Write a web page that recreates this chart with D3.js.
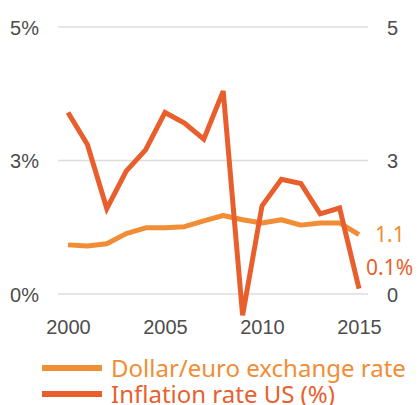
<!doctype html>
<html>
<head>
<meta charset="utf-8"/>
<script src="https://cdnjs.cloudflare.com/ajax/libs/d3/7.8.5/d3.min.js"></script>
<style>
  body { margin: 0; background: #fff; }
  svg { display: block; }
  .tick text { font-family: "Liberation Sans", Arial, sans-serif; font-size: 20px; fill: #4d4d4d; }
  .lbl { font-family: "Noto Sans", sans-serif; }
</style>
</head>
<body>
<svg width="419" height="405"></svg>
<script>
// data
var years = d3.range(2000, 2016)
var exchange = [0.92, 0.90, 0.94, 1.13, 1.24, 1.24, 1.26, 1.37, 1.47, 1.39, 1.33, 1.39, 1.29, 1.33, 1.33, 1.11]
var inflation = [3.4, 2.8, 1.6, 2.3, 2.7, 3.4, 3.2, 2.9, 3.8, -0.4, 1.65, 2.15, 2.07, 1.5, 1.61, 0.1]
var yTicks = [0, 2.5, 5]
var leftLabels = ["0%", "3%", "5%"]
var rightLabels = ["0", "3", "5"]
var xTicks = [2000, 2005, 2010, 2015]

var orange = "#f18d35", red = "#e85f2d"

var svg = d3.select("svg")

var x = d3.scaleLinear().domain([2000, 2015]).range([68, 359])
var y = d3.scaleLinear().domain([0, 5]).range([294, 27])

// grid lines
svg.append("g")
  .selectAll("line")
  .data(yTicks)
  .enter().append("line")
  .attr("x1", 58).attr("x2", 368)
  .attr("y1", d => y(d)).attr("y2", d => y(d))
  .attr("stroke", "#dcdcdc").attr("stroke-width", 1.3)

// left axis
var left = svg.append("g").attr("transform", "translate(39,0)")
  .call(d3.axisLeft(y).tickValues(yTicks).tickSize(0).tickPadding(0)
    .tickFormat((d, i) => leftLabels[i]))
left.select(".domain").remove()
left.selectAll("text").attr("dy", "0.35em")

// right axis
var right = svg.append("g").attr("transform", "translate(387,0)")
  .call(d3.axisRight(y).tickValues(yTicks).tickSize(0).tickPadding(0)
    .tickFormat((d, i) => rightLabels[i]))
right.select(".domain").remove()
right.selectAll("text").attr("dy", "0.35em")

// bottom axis
var bottom = svg.append("g").attr("transform", "translate(0,316)")
  .call(d3.axisBottom(x).tickValues(xTicks).tickSize(0).tickPadding(0)
    .tickFormat(d3.format("d")))
bottom.select(".domain").remove()
bottom.selectAll("text").attr("dy", "0.9em")

var line = d3.line().x((d, i) => x(years[i])).y(d => y(d))

svg.append("path")
  .datum(exchange)
  .attr("d", line)
  .attr("fill", "none").attr("stroke", orange)
  .attr("stroke-width", 5).attr("stroke-linejoin", "round")

svg.append("path")
  .datum(inflation)
  .attr("d", line)
  .attr("fill", "none").attr("stroke", red)
  .attr("stroke-width", 5).attr("stroke-linejoin", "miter")

// end labels
svg.append("text").attr("class", "lbl")
  .attr("x", 375).attr("y", y(exchange[15]) + 7)
  .attr("font-size", 21).attr("fill", orange)
  .text("1.1")
svg.append("text").attr("class", "lbl")
  .attr("x", 366).attr("y", y(inflation[15]) - 14)
  .attr("font-size", 21).attr("fill", red)
  .text("0.1%")

// legend
var legend = [
  {name: "Dollar/euro exchange rate", color: orange},
  {name: "Inflation rate US (%)", color: red}
]
var lg = svg.append("g")
  .selectAll("g")
  .data(legend)
  .enter().append("g")
  .attr("transform", (d, i) => "translate(0," + (368 + i * 26) + ")")
lg.append("line")
  .attr("x1", 42).attr("x2", 102)
  .attr("stroke", d => d.color).attr("stroke-width", 6)
lg.append("text").attr("class", "lbl")
  .attr("x", 111).attr("y", 9)
  .attr("font-size", 24).attr("fill", d => d.color)
  .text(d => d.name)
</script>
</body>
</html>
